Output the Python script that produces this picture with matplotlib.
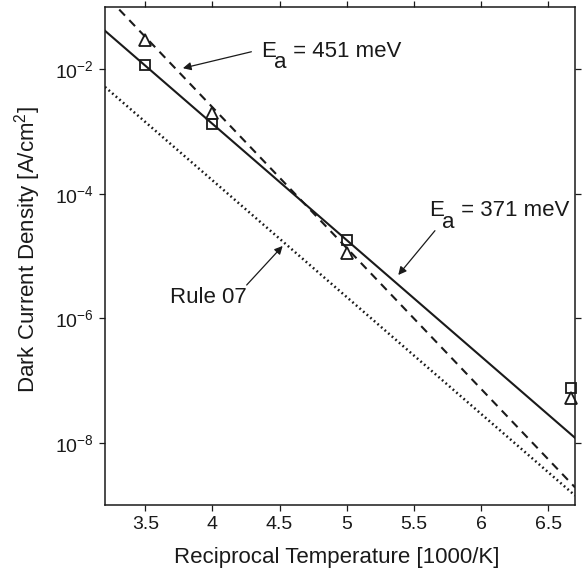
import matplotlib
matplotlib.use("Agg")
import matplotlib.pyplot as plt
import numpy as np

plt.rcParams['font.family'] = ['Liberation Sans', 'DejaVu Sans']
plt.rcParams['mathtext.fontset'] = 'custom'
plt.rcParams['mathtext.rm'] = 'Liberation Sans'
plt.rcParams['mathtext.it'] = 'Liberation Sans'

# measured data (x = 1000/T)
x_meas = [3.5, 4.0, 5.0, 6.67]
j_square = [1.15e-2, 1.3e-3, 1.8e-5, 7.7e-8]
j_triangle = [2.9e-2, 1.95e-3, 1.12e-5, 5.3e-8]

# fitted lines (endpoints)
x_fit = [3.2, 6.7]
j_fit_371 = [4.15e-2, 1.2e-8]
j_fit_451 = [1.58e-1, 1.92e-9]
j_rule07 = [5.2e-3, 1.42e-9]

xticks = [3.5, 4, 4.5, 5, 5.5, 6, 6.5]
yticks = [1e-8, 1e-6, 1e-4, 1e-2]

W, H = 584, 573
fig = plt.figure(figsize=(W / 100, H / 100), dpi=100)
ax = fig.add_axes([105 / W, 1 - 505 / H, (575 - 105) / W, (505 - 7) / H])

col = '#1a1a1a'
ax.semilogy(x_fit, j_fit_371, '-', color=col, lw=1.5)
ax.semilogy(x_fit, j_fit_451, '--', color=col, lw=1.5, dashes=(4.0, 3.0))
ax.semilogy(x_fit, j_rule07, ':', color=col, lw=1.8, dashes=(0.7, 1.2))
ax.semilogy(x_meas, j_square, 's', mfc='none', mec=col, ms=6.8, mew=1.3, clip_on=False)
ax.semilogy(x_meas, j_triangle, '^', mfc='none', mec=col, ms=8.5, mew=1.3, clip_on=False)

ax.set_xlim(3.2, 6.7)
ax.set_ylim(1e-9, 1e-1)
ax.set_xticks(xticks)
ax.set_xticklabels([f"{t:g}" for t in xticks])
ax.set_yticks(yticks)
ax.yaxis.set_minor_locator(matplotlib.ticker.NullLocator())
ax.tick_params(which='both', direction='out', length=4, width=0.9, top=True, right=True,
               labelsize=14, colors=col, pad=4)
for s in ax.spines.values():
    s.set_linewidth(1.1)
    s.set_color(col)

def px(x, y):
    return (x / W, 1 - y / H)

fig.text(*px(337, 563), 'Reciprocal Temperature [1000/K]', fontsize=16, color=col,
         ha='center', va='baseline')
fig.text(*px(28, 250), 'Dark Current Density [A/cm$^2$]', fontsize=16, color=col,
         ha='center', va='center', rotation=90)

arrowprops = dict(arrowstyle='-|>', color=col, lw=0.9, mutation_scale=12, shrinkA=0, shrinkB=0)
# arrows (data coordinates)
ax.annotate('', xy=(3.78, 1.04e-2), xytext=(4.29, 1.91e-2), arrowprops=arrowprops)
ax.annotate('', xy=(5.384, 4.95e-6), xytext=(5.657, 2.55e-5), arrowprops=arrowprops)
ax.annotate('', xy=(4.523, 1.45e-5), xytext=(4.255, 3.42e-6), arrowprops=arrowprops)

renderer = fig.canvas.get_renderer()

def ea_label(x0, y0, rest, size=16):
    t1 = fig.text(*px(x0, y0), 'E', fontsize=size, color=col, ha='left', va='baseline')
    e1 = t1.get_window_extent(renderer)
    t2 = fig.text(*px(e1.x1 - 1.5, y0 + 11.5), 'a', fontsize=size, color=col,
                  ha='left', va='baseline')
    e2 = t2.get_window_extent(renderer)
    fig.text(*px(e2.x1, y0), rest, fontsize=size, color=col, ha='left', va='baseline')

ea_label(261, 56.7, ' = 451 meV')
ea_label(429, 216, ' = 371 meV')
fig.text(*px(170, 303.3), 'Rule 07', fontsize=16, color=col, ha='left', va='baseline')

fig.savefig('out.png', dpi=100)
